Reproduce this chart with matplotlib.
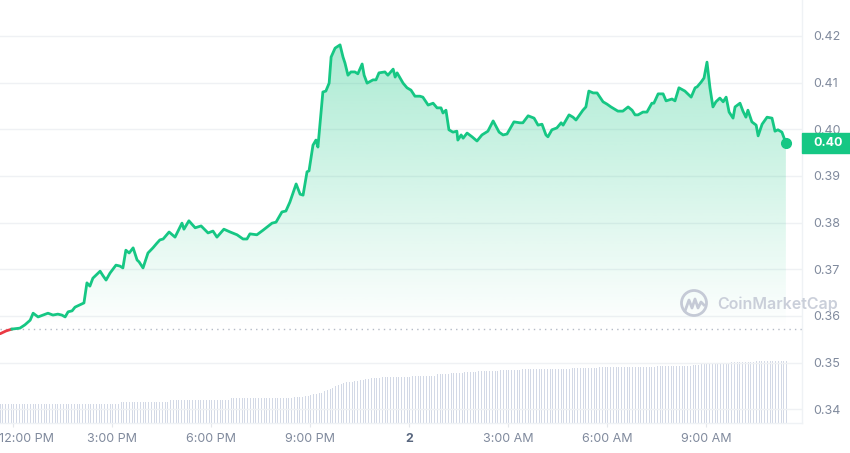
import numpy as np
import matplotlib
matplotlib.use("Agg")
import matplotlib.pyplot as plt
from matplotlib.patches import Rectangle, Ellipse, PathPatch
from matplotlib.lines import Line2D
import matplotlib.transforms as mtransforms

plt.rcParams['font.family'] = ['Inter', 'DejaVu Sans']

# Zeit in Stunden nach 12:00 PM, Preis in USD
hours = [
    -0.39, -0.21, -0.03, 0.21, 0.36, 0.52, 0.61, 0.76, 0.91, 1.06,
    1.21, 1.36, 1.48, 1.58, 1.67, 1.79, 1.88, 2.03, 2.15, 2.24,
    2.33, 2.42, 2.64, 2.73, 2.82, 2.94, 3.12, 3.24, 3.33, 3.42,
    3.52, 3.64, 3.76, 3.82, 3.94, 4.09, 4.24, 4.36, 4.45, 4.55,
    4.73, 4.91, 5.12, 5.18, 5.33, 5.52, 5.70, 5.91, 6.06, 6.18,
    6.39, 6.58, 6.79, 6.97, 7.09, 7.18, 7.39, 7.58, 7.85, 7.97,
    8.15, 8.27, 8.39, 8.58, 8.70, 8.79, 8.91, 8.97, 9.09, 9.18,
    9.24, 9.39, 9.48, 9.58, 9.64, 9.76, 9.91, 10.00, 10.06, 10.15,
    10.24, 10.36, 10.45, 10.58, 10.64, 10.73, 10.91, 11.00, 11.09, 11.27,
    11.36, 11.52, 11.58, 11.64, 11.82, 11.94, 12.06, 12.18, 12.33, 12.42,
    12.58, 12.73, 12.85, 12.97, 13.03, 13.12, 13.21, 13.33, 13.45, 13.48,
    13.58, 13.64, 13.76, 13.91, 14.06, 14.21, 14.39, 14.55, 14.73, 14.85,
    14.97, 15.09, 15.18, 15.36, 15.45, 15.61, 15.79, 15.91, 16.03, 16.15,
    16.21, 16.33, 16.48, 16.61, 16.67, 16.85, 16.97, 17.06, 17.27, 17.36,
    17.45, 17.58, 17.70, 17.88, 18.00, 18.12, 18.33, 18.48, 18.64, 18.76,
    18.85, 18.94, 19.09, 19.21, 19.36, 19.42, 19.55, 19.70, 19.79, 19.97,
    20.06, 20.18, 20.36, 20.55, 20.67, 20.73, 20.85, 20.94, 21.03, 21.12,
    21.21, 21.30, 21.42, 21.52, 21.61, 21.70, 21.82, 21.88, 22.03, 22.12,
    22.21, 22.27, 22.39, 22.52, 22.58, 22.70, 22.85, 23.00, 23.09, 23.18,
    23.30, 23.42,
]
prices = [
    0.3562, 0.3568, 0.3572, 0.3574, 0.3581, 0.3591, 0.3606, 0.3598, 0.3602, 0.3606,
    0.3602, 0.3604, 0.3602, 0.3598, 0.3609, 0.3611, 0.3619, 0.3624, 0.3628, 0.3671,
    0.3664, 0.3681, 0.3696, 0.3686, 0.3677, 0.3692, 0.3709, 0.3707, 0.3703, 0.3741,
    0.3735, 0.3746, 0.3720, 0.3716, 0.3703, 0.3735, 0.3746, 0.3756, 0.3763, 0.3765,
    0.3780, 0.3769, 0.3799, 0.3786, 0.3804, 0.3789, 0.3793, 0.3778, 0.3782, 0.3769,
    0.3786, 0.3780, 0.3774, 0.3765, 0.3765, 0.3776, 0.3774, 0.3784, 0.3799, 0.3801,
    0.3823, 0.3825, 0.3844, 0.3883, 0.3861, 0.3859, 0.3909, 0.3911, 0.3966, 0.3977,
    0.3962, 0.4080, 0.4082, 0.4099, 0.4155, 0.4174, 0.4181, 0.4155, 0.4142, 0.4116,
    0.4123, 0.4123, 0.4119, 0.4140, 0.4116, 0.4099, 0.4106, 0.4106, 0.4121, 0.4123,
    0.4116, 0.4129, 0.4112, 0.4121, 0.4099, 0.4089, 0.4084, 0.4071, 0.4071, 0.4069,
    0.4052, 0.4056, 0.4046, 0.4046, 0.4035, 0.4041, 0.3999, 0.3994, 0.3996, 0.3977,
    0.3988, 0.3981, 0.3992, 0.3984, 0.3975, 0.3988, 0.3996, 0.4018, 0.3994, 0.3988,
    0.3990, 0.4005, 0.4016, 0.4014, 0.4014, 0.4029, 0.4024, 0.4009, 0.4011, 0.3988,
    0.3984, 0.3999, 0.4003, 0.4014, 0.4009, 0.4031, 0.4026, 0.4020, 0.4041, 0.4048,
    0.4082, 0.4078, 0.4078, 0.4059, 0.4054, 0.4048, 0.4039, 0.4039, 0.4048, 0.4041,
    0.4031, 0.4031, 0.4037, 0.4037, 0.4056, 0.4056, 0.4076, 0.4076, 0.4061, 0.4065,
    0.4061, 0.4089, 0.4082, 0.4069, 0.4089, 0.4091, 0.4101, 0.4110, 0.4144, 0.4089,
    0.4048, 0.4059, 0.4067, 0.4059, 0.4069, 0.4037, 0.4024, 0.4048, 0.4056, 0.4039,
    0.4026, 0.4041, 0.4016, 0.4009, 0.3986, 0.4011, 0.4026, 0.4024, 0.3996, 0.3999,
    0.3994, 0.3971,
]
open_price = 0.3572

# Handelsvolumen (24h, Mio.), alle 5 Minuten ab 11:37 AM
vol_start = -0.39
volume = [
    195, 195, 195, 195, 195, 195, 195, 195, 195, 195, 195, 195, 195, 195, 195, 195, 195, 195, 195, 195,
    195, 195, 195, 195, 195, 195, 195, 195, 195, 195, 195, 195, 195, 195, 195, 195, 195, 195, 195, 195,
    195, 195, 195, 195, 210, 210, 210, 210, 210, 210, 210, 210, 210, 210, 210, 210, 210, 210, 210, 210,
    210, 210, 230, 230, 230, 230, 230, 230, 230, 230, 230, 230, 230, 230, 230, 230, 230, 230, 230, 230,
    230, 230, 230, 230, 250, 250, 250, 250, 250, 250, 250, 250, 250, 250, 250, 250, 250, 250, 250, 250,
    250, 250, 250, 250, 250, 250, 250, 260, 260, 260, 260, 270, 270, 280, 290, 290, 300, 300, 320, 330,
    340, 355, 370, 380, 390, 400, 410, 415, 415, 420, 420, 430, 430, 440, 440, 450, 450, 450, 450, 460,
    460, 460, 460, 460, 460, 460, 460, 460, 460, 460, 470, 470, 470, 470, 470, 470, 470, 470, 470, 490,
    490, 490, 490, 490, 500, 500, 500, 500, 500, 510, 510, 510, 510, 510, 520, 520, 520, 520, 520, 520,
    520, 520, 530, 530, 530, 530, 530, 530, 530, 530, 540, 540, 540, 540, 540, 540, 540, 540, 540, 545,
    545, 545, 545, 545, 545, 545, 545, 545, 550, 550, 550, 550, 550, 550, 550, 550, 550, 550, 560, 560,
    560, 560, 560, 560, 560, 560, 560, 560, 560, 560, 560, 560, 560, 560, 560, 560, 560, 560, 560, 570,
    570, 570, 570, 570, 570, 570, 570, 570, 570, 570, 570, 570, 580, 580, 580, 600, 600, 600, 600, 600,
    600, 600, 600, 600, 600, 600, 610, 610, 610, 610, 610, 610, 610, 610, 610, 620, 620, 620, 620, 620,
    620, 620, 620, 620, 620, 620, 620,
]

tick_hours = [0, 3, 6, 9, 12, 15, 18, 21]
tick_labels = ["12:00 PM", "3:00 PM", "6:00 PM", "9:00 PM", "2", "3:00 AM", "6:00 AM", "9:00 AM"]
y_ticks = [0.34, 0.35, 0.36, 0.37, 0.38, 0.39, 0.40, 0.41, 0.42]

GREEN = '#16c784'
RED = '#ea3943'
GREY = '#808a9d'

fig = plt.figure(figsize=(8.5, 4.53), dpi=100)
ax = fig.add_axes([0, 30 / 453, 802 / 850, 423 / 453])
ax.set_xlim(-0.394, 23.909)
ax.set_ylim(0.337071, 0.427714)

# Volumen als zweite Achse unten
ax2 = ax.twinx()
ax2.set_ylim(0, 4230)
vol_x = vol_start + np.arange(len(volume)) / 12
ax2.bar(vol_x, volume, width=0.035, color='#d3d9e6', linewidth=0, zorder=1)
ax2.axis('off')
ax.set_zorder(ax2.get_zorder() + 1)
ax.patch.set_visible(False)

h = np.array(hours)
p = np.array(prices)

# Verlaufsfüllung unter der Kurve
poly = ax.fill_between(h, p, open_price, color='none', linewidth=0)
clip = PathPatch(poly.get_paths()[0], transform=ax.transData, fc='none', ec='none')
ax.add_patch(clip)
grad = np.zeros((256, 1, 4))
grad[:, 0, 0] = 22 / 255
grad[:, 0, 1] = 199 / 255
grad[:, 0, 2] = 132 / 255
grad[:, 0, 3] = np.linspace(0.0, 0.36, 256)
img = ax.imshow(grad, extent=[h[0], h[-1], open_price, 0.4185], origin='lower',
                aspect='auto', zorder=1)
img.set_clip_path(clip)
ax.set_xlim(-0.394, 23.909)
ax.set_ylim(0.337071, 0.427714)

ax.axhline(open_price, color='#b4bac6', lw=1, ls=(0, (1, 3)), zorder=2)
ax.plot(h[:3], p[:3], color=RED, lw=2, zorder=3, solid_capstyle='round')
ax.plot(h[2:], p[2:], color=GREEN, lw=2, zorder=3, solid_joinstyle='round')
ax.plot(h[-1], p[-1], 'o', color=GREEN, markersize=7, zorder=4)

ax.set_yticks(y_ticks)
ax.set_yticklabels([f"{v:.2f}" for v in y_ticks])
ax.yaxis.tick_right()
ax.tick_params(axis='y', length=0, pad=8, labelsize=9, labelcolor=GREY)
ax.grid(axis='y', color='#eff1f4', lw=1)
ax.set_axisbelow(True)

ax.set_xticks(tick_hours)
ax.set_xticklabels(tick_labels)
ax.tick_params(axis='x', length=3, color='#e3e6eb', pad=4, labelsize=9, labelcolor=GREY)
xl = ax.get_xticklabels()
xl[4].set_fontweight('bold')
xl[4].set_color('#58667e')
xl[0].set_horizontalalignment('left')
xl[0].set_transform(xl[0].get_transform() +
                    mtransforms.ScaledTranslation(-10 / 72, 0, fig.dpi_scale_trans))

for s in ['top', 'left']:
    ax.spines[s].set_visible(False)
for s in ['right', 'bottom']:
    ax.spines[s].set_color('#eff2f5')
    ax.spines[s].set_linewidth(1)

# Aktueller Preis rechts
tr = mtransforms.blended_transform_factory(ax.transAxes, ax.transData)
ax.add_patch(Rectangle((1.0, p[-1] - 0.00214), 0.06, 0.00428, transform=tr,
                       color=GREEN, clip_on=False, zorder=10))
ax.text(1.0138, p[-1], f"{p[-1]:.2f}", transform=tr, color='white', fontsize=9,
        fontweight='bold', va='center', ha='left', zorder=11, clip_on=False)

# Wasserzeichen
wm = '#c5cad6'
fig.text(717 / 850, 1 - 304 / 453, "CoinMarketCap", color=wm, fontsize=11.5,
         fontweight='semibold', va='center', ha='left', alpha=0.9)
fig.patches.append(Ellipse((694 / 850, 1 - 303 / 453), 25 / 850, 25 / 453,
                           transform=fig.transFigure, fill=False, ec=wm, lw=2))
wx = np.array([685, 689, 692, 695, 698, 701, 704]) / 850
wy = 1 - np.array([311, 300, 308, 299, 308, 302, 305]) / 453
fig.lines.append(Line2D(wx, wy, transform=fig.transFigure, color=wm, lw=2,
                        solid_joinstyle='round'))

fig.savefig("out.png", dpi=100)
